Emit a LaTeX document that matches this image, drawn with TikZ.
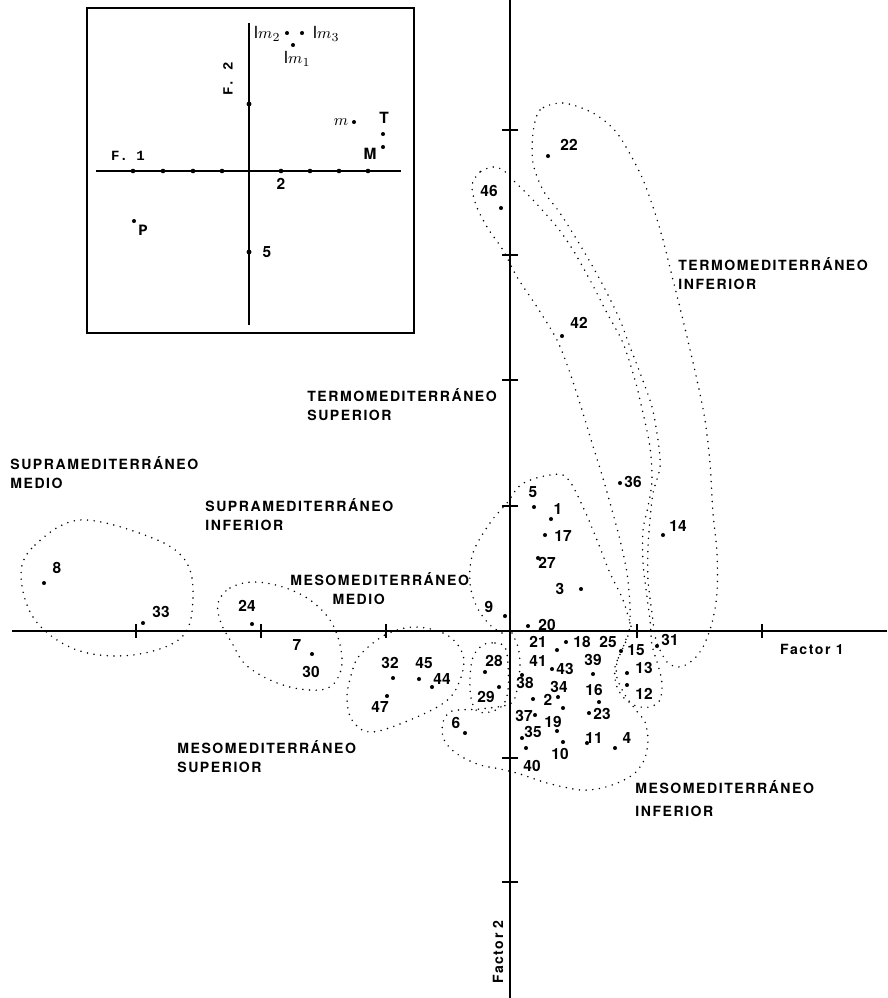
\documentclass[tikz,border=0pt]{standalone}
\usepackage{fontspec}
\setmainfont{TeX Gyre Heros}
\newfontfamily\regfont[LetterSpace=11]{TeX Gyre Heros}
\newfontfamily\tyfont{Liberation Mono}

\tikzset{
  pnt/.style={circle,fill,inner sep=0pt,minimum size=2.3pt},
  num/.style={font=\fontsize{8.8}{10}\selectfont\bfseries,inner sep=0pt},
  region/.style={font=\regfont\bfseries\fontsize{8}{10.8}\selectfont,align=left,anchor=base west,inner sep=0pt},
  envelope/.style={line width=0.95pt,line cap=round,dash pattern=on 0pt off 3.8pt},
  axline/.style={line width=0.8pt},
  insetlbl/.style={font=\tyfont\bfseries\fontsize{8}{9}\selectfont,inner sep=0pt},
}

\begin{document}
\begin{tikzpicture}[x=0.02cm,y=-0.02cm]
    \useasboundingbox (0,0) rectangle (887,998);

    % axes of the main plot
    \coordinate (xl) at (12,631);
    \coordinate (xr) at (887,631);
    \coordinate (yt) at (510,0);
    \coordinate (yb) at (510,998);
    \draw[axline] (xl) -- (xr);
    \draw[axline] (yt) -- (yb);
    \foreach \x in {136,261,386,637,762} \draw[axline] (\x,624) -- (\x,638);
    \foreach \y in {130,255,380,506,758,882} \draw[axline] (502,\y) -- (518,\y);
    \node[region,anchor=center] (fac1) at (812,649) {Factor 1};
    \node[region,anchor=center,rotate=90] (fac2) at (498,952) {Factor 2};

    % envelopes
    \draw[envelope] plot[smooth cycle,tension=0.6] coordinates {(21,575) (35,545) (80,520) (150,537) (185,560) (193,597) (182,637) (133,655) (77,650) (35,620)};
    \draw[envelope] plot[smooth cycle,tension=0.6] coordinates {(218,603) (230,588) (253,582) (283,587) (310,600) (330,620) (340,645) (341,670) (328,688) (300,689) (270,680) (245,664) (232,643) (221,623)};
    \draw[envelope] plot[smooth cycle,tension=0.6] coordinates {(360,655) (385,635) (415,627) (447,635) (463,655) (460,680) (445,702) (405,722) (370,732) (352,720) (347,697) (352,672)};
    \draw[envelope] plot[smooth cycle,tension=0.6] coordinates {(483,645) (495,643) (505,647) (508,665) (508,690) (503,705) (490,712) (477,711) (471,698) (470,678) (473,657)};
    \draw[envelope] plot[smooth,tension=0.6] coordinates {(502,633) (490,625) (477,607) (470,583) (473,553) (490,523) (507,503) (522,484) (550,475) (567,478) (583,507) (597,540) (610,573) (623,600) (632,630)};
    \draw[envelope] plot[smooth,tension=0.5] coordinates {(512,633) (518,647) (520,665) (517,690) (510,704) (480,709) (452,711) (443,722) (443,737) (450,748) (462,757) (480,765) (500,769) (520,774) (547,783) (580,790) (602,788) (622,781) (636,772) (645,758) (648,740) (645,722) (635,709) (625,695) (617,678) (617,662) (624,645) (628,633)};
    \draw[envelope] plot[smooth cycle,tension=0.5] coordinates {(493,167) (480,172) (472,185) (476,205) (487,227) (503,250) (517,277) (537,307) (557,340) (570,373) (582,410) (592,443) (602,475) (612,510) (620,540) (627,573) (630,607) (629,632) (622,650) (615,667) (616,684) (623,697) (636,706) (650,707) (660,700) (662,683) (658,665) (652,645) (650,620) (647,597) (643,563) (643,530) (648,507) (652,480) (650,447) (643,413) (635,380) (623,343) (607,313) (590,280) (573,250) (557,227) (533,200) (513,180) (503,170)};
    \draw[envelope] plot[smooth cycle,tension=0.5] coordinates {(563,103) (540,110) (533,133) (533,163) (543,190) (560,213) (577,240) (593,267) (607,293) (620,320) (630,347) (642,378) (652,407) (658,440) (660,467) (653,493) (650,520) (648,547) (648,580) (652,613) (656,640) (667,662) (680,667) (693,660) (703,647) (712,623) (717,593) (717,553) (713,513) (710,463) (705,420) (697,380) (683,320) (673,280) (663,240) (653,207) (640,173) (617,133) (593,113)};

    % stations
    \node[num] (l1) at (558,509) {1};    \node[pnt] (d1) at (551,519) {};
    \node[num] (l2) at (548,700) {2};    \node[pnt] (d2) at (563,708) {};
    \node[num] (l3) at (560,589) {3};    \node[pnt] (d3) at (581,589) {};
    \node[num] (l4) at (627,738) {4};    \node[pnt] (d4) at (615,748) {};
    \node[num] (l5) at (533,492) {5};    \node[pnt] (d5) at (534,507) {};
    \node[num] (l6) at (456,723) {6};    \node[pnt] (d6) at (465,733) {};
    \node[num] (l7) at (297,645) {7};    \node[pnt] (d7) at (312,654) {};
    \node[num] (l8) at (57,568) {8};     \node[pnt] (d8) at (44,583) {};
    \node[num] (l9) at (489,607) {9};    \node[pnt] (d9) at (505,616) {};
    \node[num] (l10) at (560,754) {10};  \node[pnt] (d10) at (563,742) {};
    \node[num] (l11) at (594,738) {11};  \node[pnt] (d11) at (587,743) {};
    \node[num] (l12) at (644,694) {12};  \node[pnt] (d12) at (627,685) {};
    \node[num] (l13) at (644,668) {13};  \node[pnt] (d13) at (627,673) {};
    \node[num] (l14) at (678,526) {14};  \node[pnt] (d14) at (663,535) {};
    \node[num] (l15) at (636,650) {15};  \node[pnt] (d15) at (621,651) {};
    \node[num] (l16) at (594,690) {16};  \node[pnt] (d16) at (599,702) {};
    \node[num] (l17) at (563,536) {17};  \node[pnt] (d17) at (545,535) {};
    \node[num] (l18) at (582,642) {18};  \node[pnt] (d18) at (566,642) {};
    \node[num] (l19) at (553,722) {19};  \node[pnt] (d19) at (557,731) {};
    \node[num] (l20) at (547,625) {20};  \node[pnt] (d20) at (528,626) {};
    \node[num] (l21) at (538,642) {21};  \node[pnt] (d21) at (557,650) {};
    \node[num] (l22) at (569,145) {22};  \node[pnt] (d22) at (548,156) {};
    \node[num] (l23) at (602,714) {23};  \node[pnt] (d23) at (589,713) {};
    \node[num] (l24) at (247,606) {24};  \node[pnt] (d24) at (252,624) {};
    \node[num] (l25) at (608,642) {25};
    \node[num] (l27) at (547,563) {27};  \node[pnt] (d27) at (538,558) {};
    \node[num] (l28) at (494,661) {28};  \node[pnt] (d28) at (485,672) {};
    \node[num] (l29) at (486,697) {29};  \node[pnt] (d29) at (499,687) {};
    \node[num] (l30) at (311,672) {30};
    \node[num] (l31) at (670,640) {31};  \node[pnt] (d31) at (657,646) {};
    \node[num] (l32) at (390,663) {32};  \node[pnt] (d32) at (393,678) {};
    \node[num] (l33) at (161,612) {33};  \node[pnt] (d33) at (143,623) {};
    \node[num] (l34) at (559,687) {34};  \node[pnt] (d34) at (558,697) {};
    \node[num] (l35) at (533,732) {35};  \node[pnt] (d35) at (522,738) {};
    \node[num] (l36) at (633,482) {36};  \node[pnt] (d36) at (620,483) {};
    \node[num] (l37) at (524,716) {37};  \node[pnt] (d37) at (535,715) {};
    \node[num] (l38) at (525,683) {38};  \node[pnt] (d38) at (522,675) {};
    \node[num] (l39) at (593,660) {39};  \node[pnt] (d39) at (593,674) {};
    \node[num] (l40) at (532,766) {40};  \node[pnt] (d40) at (526,748) {};
    \node[num] (l41) at (538,661) {41};  \node[pnt] (d41) at (533,699) {};
    \node[num] (l42) at (579,323) {42};  \node[pnt] (d42) at (562,336) {};
    \node[num] (l43) at (565,669) {43};  \node[pnt] (d43) at (552,669) {};
    \node[num] (l44) at (442,679) {44};  \node[pnt] (d44) at (432,687) {};
    \node[num] (l45) at (424,663) {45};  \node[pnt] (d45) at (419,679) {};
    \node[num] (l46) at (489,191) {46};  \node[pnt] (d46) at (501,208) {};
    \node[num] (l47) at (380,707) {47};  \node[pnt] (d47) at (387,696) {};

    % belts
    \node[region] (smed) at (10,488) {SUPRAMEDITERRÁNEO\\MEDIO};
    \node[region] (sinf) at (205,530) {SUPRAMEDITERRÁNEO\\INFERIOR};
    \node[region] (mmed) at (290,604) {MESOMEDITERRÁNEO\\\hspace*{24pt}MEDIO};
    \node[region] (tsup) at (307,420) {TERMOMEDITERRÁNEO\\SUPERIOR};
    \node[region] (tinf) at (678,289) {TERMOMEDITERRÁNEO\\INFERIOR};
    \node[region] (msup) at (177,772) {MESOMEDITERRÁNEO\\SUPERIOR};
    \node[region] (minf) at (635,816) {MESOMEDITERRÁNEO\\[2pt]INFERIOR};

    % inset
    \draw[line width=1pt] (87,8) rectangle (414,333);
    \coordinate (il) at (96,171);
    \coordinate (ir) at (401,171);
    \coordinate (it) at (249,23);
    \coordinate (ib) at (249,325);
    \draw[axline] (il) -- (ir);
    \draw[axline] (it) -- (ib);
    \foreach \x in {133,163,193,222,281,310,339,368} \node[pnt,minimum size=2.6pt] at (\x,171) {};
    \foreach \y in {104,252} \node[pnt,minimum size=2.8pt] at (249,\y) {};
    \node[insetlbl] (if1) at (128,156) {F. 1};
    \node[insetlbl,rotate=90] (if2) at (228,79) {F. 2};
    \node[num] (it2) at (281,184) {2};
    \node[num] (it5) at (267,252) {5};
    \node[insetlbl,font=\tyfont\bfseries\fontsize{9}{10}\selectfont] (ip) at (143,230) {P};
    \node[pnt] (dp) at (134,221) {};
    \node[inner sep=0pt,font=\fontsize{9.5}{10}\selectfont] (im2) at (267,34) {I$m_2$};
    \node[pnt] (dm2) at (287,33) {};
    \node[pnt] (dm3) at (302,33) {};
    \node[inner sep=0pt,font=\fontsize{9.5}{10}\selectfont] (im3) at (326,34) {I$m_3$};
    \node[pnt] (dm1) at (293,45) {};
    \node[inner sep=0pt,font=\fontsize{9.5}{10}\selectfont] (im1) at (297,59) {I$m_1$};
    \node[inner sep=0pt,font=\fontsize{9.5}{10}\selectfont] (im) at (341,122) {$m$};
    \node[pnt] (dm) at (354,122) {};
    \node[num] (iT) at (384,118) {T};
    \node[pnt] (dT) at (383,134) {};
    \node[num] (iM) at (370,154) {M};
    \node[pnt] (dM) at (383,147) {};
\end{tikzpicture}
\end{document}
